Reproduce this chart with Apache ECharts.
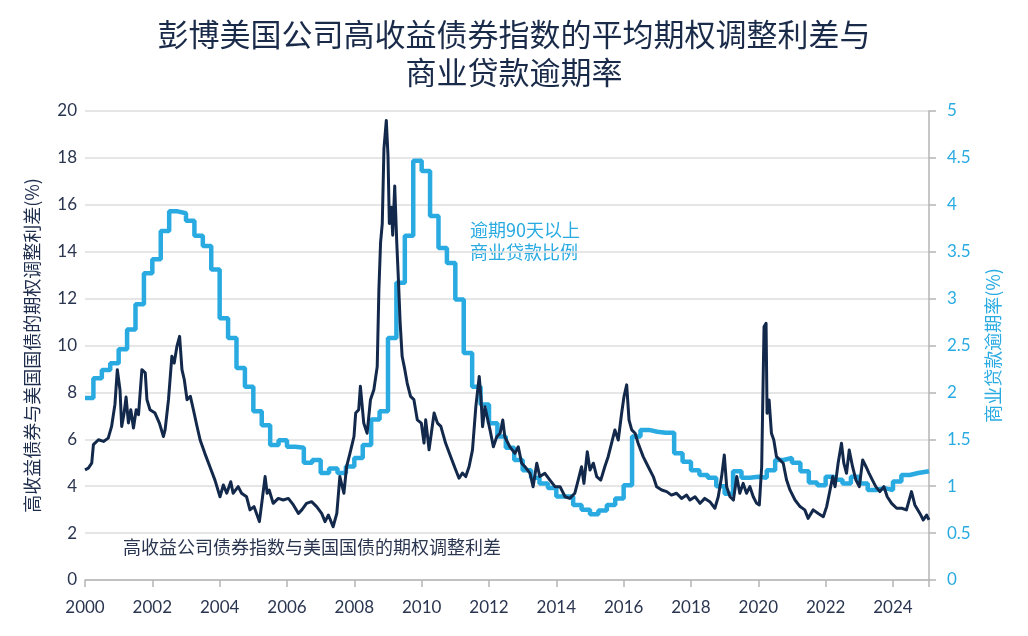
<!DOCTYPE html>
<html>
<head>
<meta charset="utf-8">
<script src="https://cdn.jsdelivr.net/npm/echarts@6/dist/echarts.min.js"></script>
<style>
  html, body { margin: 0; padding: 0; background: #fff; }
  #main { width: 1028px; height: 636px; }
</style>
</head>
<body>
<div id="main"></div>
<script>
// 高收益债券期权调整利差(%)，按年份小数读取
var oasYears = [
  2000.00, 2000.10, 2000.20, 2000.25, 2000.40, 2000.55, 2000.69, 2000.79, 2000.89, 2000.96,
  2001.04, 2001.09, 2001.16, 2001.22, 2001.29, 2001.36, 2001.44, 2001.52, 2001.59, 2001.69,
  2001.79, 2001.84, 2001.93, 2002.08, 2002.21, 2002.33, 2002.38, 2002.48, 2002.58, 2002.65,
  2002.73, 2002.81, 2002.88, 2002.95, 2003.03, 2003.13, 2003.22, 2003.32,
  2003.42, 2003.56, 2003.71, 2003.86, 2004.01, 2004.11, 2004.21, 2004.33, 2004.40, 2004.55,
  2004.65, 2004.80, 2004.90, 2005.02, 2005.18, 2005.25, 2005.35, 2005.41, 2005.47, 2005.59,
  2005.74, 2005.89, 2006.04, 2006.19, 2006.34, 2006.44, 2006.58, 2006.73, 2006.88, 2007.03,
  2007.13, 2007.23, 2007.37, 2007.48, 2007.57, 2007.69, 2007.77, 2007.87,
  2007.99, 2008.04, 2008.13, 2008.18, 2008.28, 2008.38, 2008.48, 2008.58, 2008.68, 2008.73,
  2008.78, 2008.83, 2008.88, 2008.95, 2009.00, 2009.04, 2009.10, 2009.14, 2009.20, 2009.26,
  2009.31, 2009.36, 2009.42, 2009.50, 2009.57, 2009.67, 2009.77, 2009.87, 2009.99, 2010.07,
  2010.12, 2010.22, 2010.37, 2010.47, 2010.57, 2010.71, 2010.86, 2011.01, 2011.11, 2011.21,
  2011.31, 2011.41, 2011.51, 2011.61, 2011.71,
  2011.76, 2011.81, 2011.88, 2012.03, 2012.13, 2012.23, 2012.33, 2012.41, 2012.47, 2012.62,
  2012.77, 2012.87, 2012.97, 2013.07, 2013.22, 2013.31, 2013.42, 2013.51, 2013.66, 2013.81,
  2013.96, 2014.11, 2014.26, 2014.40, 2014.55, 2014.65, 2014.75, 2014.82, 2014.92, 2015.00,
  2015.10, 2015.20, 2015.32, 2015.44, 2015.54, 2015.64, 2015.74, 2015.84, 2015.94, 2016.01,
  2016.09, 2016.16, 2016.24, 2016.34, 2016.43, 2016.58, 2016.73, 2016.88, 2016.98, 2017.13,
  2017.28, 2017.42, 2017.57, 2017.72, 2017.87,
  2017.97, 2018.12, 2018.27, 2018.41, 2018.56, 2018.71, 2018.81, 2018.91, 2018.99, 2019.06,
  2019.16, 2019.26, 2019.36, 2019.45, 2019.55, 2019.65, 2019.75, 2019.85, 2019.95, 2020.03,
  2020.10, 2020.17, 2020.23, 2020.26, 2020.32, 2020.39, 2020.46, 2020.54, 2020.64, 2020.74,
  2020.84, 2020.94, 2021.09, 2021.24, 2021.38, 2021.48, 2021.63, 2021.78, 2021.93, 2022.03,
  2022.13, 2022.21, 2022.28, 2022.37, 2022.47, 2022.54, 2022.62, 2022.70, 2022.80, 2022.90,
  2023.00, 2023.10, 2023.20, 2023.29, 2023.39, 2023.49, 2023.61, 2023.73, 2023.83, 2023.96,
  2024.11, 2024.26, 2024.40, 2024.55, 2024.65, 2024.80, 2024.90, 2025.00, 2025.07
];
var oasValues = [
  4.70, 4.77, 4.98, 5.77, 5.98, 5.91, 6.05, 6.55, 7.50, 8.97,
  8.10, 6.55, 7.10, 7.80, 6.70, 7.26, 6.48, 7.26, 7.05, 8.97,
  8.83, 7.69, 7.26, 7.12, 6.69, 6.12, 6.41, 7.69, 9.54, 9.25,
  9.96, 10.39, 8.97, 8.54, 7.69, 7.83, 7.26, 6.60,
  5.97, 5.40, 4.83, 4.26, 3.55, 4.05, 3.70, 4.19, 3.70, 3.98,
  3.70, 3.55, 2.99, 3.13, 2.49, 3.27, 4.41, 3.70, 3.84, 3.27,
  3.48, 3.41, 3.48, 3.20, 2.84, 2.99, 3.27, 3.34, 3.13, 2.84,
  2.49, 2.77, 2.27, 2.84, 4.41, 3.70, 4.83, 5.40,
  6.12, 7.12, 7.26, 8.26, 6.69, 6.26, 7.69, 8.11, 9.10, 12.4,
  14.4, 15.2, 18.4, 19.6, 18.1, 15.2, 15.9, 14.7, 16.8, 14.4,
  12.8, 11.0, 9.54, 8.97, 8.40, 7.83, 7.69, 6.83, 6.69, 5.84,
  6.83, 5.55, 7.12, 6.69, 6.55, 5.84, 5.27, 4.70, 4.34, 4.56,
  4.41, 4.84, 5.55, 7.40, 8.68,
  7.80, 6.54, 7.39, 6.40, 5.68, 6.11, 6.26, 6.82, 6.11, 5.68,
  5.40, 5.68, 4.98, 4.83, 4.55, 3.98, 4.98, 4.41, 4.55, 4.26,
  3.98, 3.98, 3.55, 3.48, 3.70, 4.26, 4.83, 4.12, 5.47, 4.69,
  4.98, 4.41, 4.26, 4.83, 5.26, 5.83, 6.40, 5.97, 7.11, 7.82,
  8.32, 6.82, 6.40, 6.26, 5.83, 5.26, 4.83, 4.41, 3.98, 3.84,
  3.77, 3.62, 3.70, 3.48, 3.62,
  3.41, 3.55, 3.27, 3.48, 3.34, 3.06, 3.55, 4.41, 5.33, 3.98,
  3.55, 3.41, 4.41, 3.70, 4.12, 3.70, 3.98, 3.55, 3.27, 3.20,
  4.83, 10.80, 10.95, 7.11, 7.68, 6.26, 5.97, 5.26, 5.12, 4.98,
  4.26, 3.84, 3.41, 3.13, 2.99, 2.63, 2.99, 2.84, 2.70, 3.13,
  3.84, 4.41, 3.98, 4.98, 5.83, 4.98, 4.55, 5.54, 4.83, 4.26,
  3.98, 5.12, 4.83, 4.55, 4.26, 3.98, 3.77, 3.98, 3.55, 3.27,
  3.06, 3.06, 2.99, 3.77, 3.20, 2.84, 2.56, 2.77, 2.56
];

// 逾期90天以上商业贷款比例(%)，季度，2000Q1 起
var delinqStart = 2000;
var delinqValues = [
  1.94, 2.15, 2.24, 2.31,
  2.46, 2.67, 2.94, 3.27,
  3.42, 3.72, 3.93, 3.91,
  3.83, 3.67, 3.56, 3.31,
  2.79, 2.58, 2.26, 2.06,
  1.80, 1.65, 1.44, 1.49,
  1.42, 1.41, 1.25, 1.28,
  1.14, 1.19, 1.14, 1.21,
  1.30, 1.44, 1.71, 1.80,
  2.58, 3.17, 3.67, 4.47,
  4.36, 3.88, 3.54, 3.38,
  2.99, 2.42, 2.06, 1.87,
  1.67, 1.53, 1.41, 1.28,
  1.17, 1.09, 1.03, 0.98,
  0.89, 0.89, 0.80, 0.75,
  0.70, 0.74, 0.80, 0.87,
  1.01, 1.53, 1.60, 1.58,
  1.57, 1.57, 1.35, 1.26,
  1.17, 1.12, 1.09, 1.00,
  0.92, 1.16, 1.09, 1.10,
  1.09, 1.17, 1.28, 1.30,
  1.25, 1.16, 1.04, 1.01,
  1.10, 1.07, 1.03, 1.10,
  1.03, 0.96, 0.98, 0.96,
  1.05, 1.12, 1.14, 1.16
];
var delinqEnd = 2025.07;

var xMin = 2000, xMax = 2025.07;
var navy = '#13294b';
var blue = '#29abe2';

var oasData = oasYears.map(function (y, i) { return [y, oasValues[i]]; });
var delinqData = delinqValues.map(function (v, i) { return [delinqStart + i / 4, v]; });
delinqData.push([delinqEnd, delinqValues[delinqValues.length - 1]]);

var chart = echarts.init(document.getElementById('main'));

var option = {
    backgroundColor: '#fff',
    animation: false,
    title: {
        text: '彭博美国公司高收益债券指数的平均期权调整利差与\n商业贷款逾期率',
        left: 'center',
        top: 10,
        textStyle: {
            fontFamily: 'Noto Sans CJK SC',
            fontWeight: 'normal',
            fontSize: 31,
            lineHeight: 38,
            color: '#1a2b4a'
        }
    },
    grid: { left: 85, right: 99, top: 111, bottom: 56 },
    xAxis: {
        type: 'value',
        min: xMin,
        max: xMax,
        interval: 2,
        axisLine: { show: true, lineStyle: { color: '#b5b5b5', width: 1.5 } },
        axisTick: { show: true, length: 7, lineStyle: { color: '#b5b5b5', width: 1.5 } },
        splitLine: { show: false },
        axisLabel: {
            margin: 19,
            fontFamily: 'Lato',
            fontSize: 17,
            color: '#2a3550',
            formatter: function (v) { return v % 2 === 0 ? String(v) : ''; }
        }
    },
    yAxis: [
        {
            type: 'value',
            min: 0,
            max: 20,
            interval: 2,
            name: '高收益债券与美国国债的期权调整利差(%)',
            nameLocation: 'middle',
            nameRotate: 90,
            nameGap: 44,
            nameTextStyle: { fontFamily: 'Noto Sans CJK SC', fontSize: 18, color: '#1f2d4d' },
            axisLine: { show: false },
            axisTick: { show: false },
            splitLine: { lineStyle: { color: '#dedede', width: 1.5 } },
            axisLabel: { margin: 8, fontFamily: 'Lato', fontSize: 17, color: '#2a3550' }
        },
        {
            type: 'value',
            min: 0,
            max: 5,
            interval: 0.5,
            position: 'right',
            name: '商业贷款逾期率(%)',
            nameLocation: 'middle',
            nameRotate: 90,
            nameGap: 55,
            nameTextStyle: { fontFamily: 'Noto Sans CJK SC', fontSize: 18, color: blue },
            axisLine: { show: true, lineStyle: { color: '#b5b5b5', width: 1.5 } },
            axisTick: { show: true, inside: false, length: 7, lineStyle: { color: '#b5b5b5', width: 1.5 } },
            splitLine: { show: false },
            axisLabel: { margin: 18, fontFamily: 'Lato', fontSize: 17, color: blue }
        }
    ],
    series: [
        {
            name: '逾期90天以上商业贷款比例',
            type: 'line',
            yAxisIndex: 1,
            step: 'end',
            data: delinqData,
            showSymbol: false,
            lineStyle: { color: blue, width: 4.5 },
            z: 2
        },
        {
            name: '高收益公司债券指数与美国国债的期权调整利差',
            type: 'line',
            yAxisIndex: 0,
            data: oasData,
            showSymbol: false,
            lineStyle: { color: navy, width: 3, join: 'round' },
            z: 3
        }
    ],
    graphic: [
        {
            type: 'text',
            left: 470,
            top: 219,
            style: {
                text: '逾期90天以上\n商业贷款比例',
                font: '18px "Noto Sans CJK SC"',
                lineHeight: 22,
                fill: blue
            }
        },
        {
            type: 'text',
            left: 123,
            top: 538,
            style: {
                text: '高收益公司债券指数与美国国债的期权调整利差',
                font: '18px "Noto Sans CJK SC"',
                fill: '#2a3550'
            }
        }
    ]
};

chart.setOption(option);
</script>
</body>
</html>
